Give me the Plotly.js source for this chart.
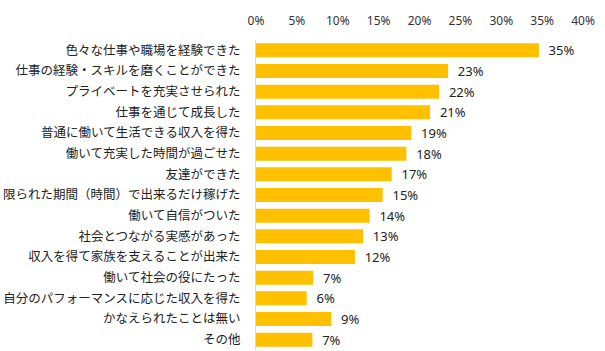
<!DOCTYPE html>
<html><head><meta charset="utf-8">
<script src="https://cdn.plot.ly/plotly-3.0.1.min.js"></script>
<style>html,body{margin:0;padding:0;background:#fff}#chart{width:605px;height:351px}</style>
</head><body><div id="chart"></div>
<script>
var categories = [
  "色々な仕事や職場を経験できた",
  "仕事の経験・スキルを磨くことができた",
  "プライベートを充実させられた",
  "仕事を通じて成長した",
  "普通に働いて生活できる収入を得た",
  "働いて充実した時間が過ごせた",
  "友達ができた",
  "限られた期間（時間）で出来るだけ稼げた",
  "働いて自信がついた",
  "社会とつながる実感があった",
  "収入を得て家族を支えることが出来た",
  "働いて社会の役にたった",
  "自分のパフォーマンスに応じた収入を得た",
  "かなえられたことは無い",
  "その他"
];
var values = [34.6, 23.5, 22.4, 21.3, 19.0, 18.4, 16.6, 15.5, 13.9, 13.1, 12.1, 7.0, 6.2, 9.2, 6.9];
var valueLabels = ["35%", "23%", "22%", "21%", "19%", "18%", "17%", "15%", "14%", "13%", "12%", "7%", "6%", "9%", "7%"];
var tickVals = [0, 5, 10, 15, 20, 25, 30, 35, 40];
var tickLabels = ["0%", "5%", "10%", "15%", "20%", "25%", "30%", "35%", "40%"];

var fontFam = "'Noto Sans CJK JP', 'Noto Sans', sans-serif";
Plotly.newPlot('chart', [{
  type: 'bar', orientation: 'h',
  x: values, y: categories,
  text: valueLabels,
  texttemplate: '\u00a0\u00a0%{text}',
  textposition: 'outside',
  constraintext: 'none',
  cliponaxis: false,
  textfont: {family: "'Noto Sans', sans-serif", size: 13, color: '#222'},
  marker: {color: '#FFC000'},
  width: 0.68,
  hoverinfo: 'none'
}], {
  width: 605, height: 351,
  margin: {l: 256, r: 22, t: 40, b: 1, pad: 0},
  paper_bgcolor: '#fff', plot_bgcolor: '#fff',
  showlegend: false,
  xaxis: {
    side: 'top', range: [0, 40], tickvals: tickVals, ticktext: tickLabels,
    showgrid: false, zeroline: false, showline: false, ticks: '',
    ticklabelstandoff: 12,
    tickfont: {family: "'Noto Sans', sans-serif", size: 12, color: '#333'}, fixedrange: true
  },
  yaxis: {
    autorange: 'reversed', type: 'category',
    showgrid: false, zeroline: false, showline: true, linecolor: '#d9d9d9', linewidth: 1,
    ticks: '', ticklabelstandoff: 12,
    tickfont: {family: fontFam, size: 12.5, color: '#222'}, fixedrange: true
  }
}, {staticPlot: true, displayModeBar: false});
</script></body></html>
